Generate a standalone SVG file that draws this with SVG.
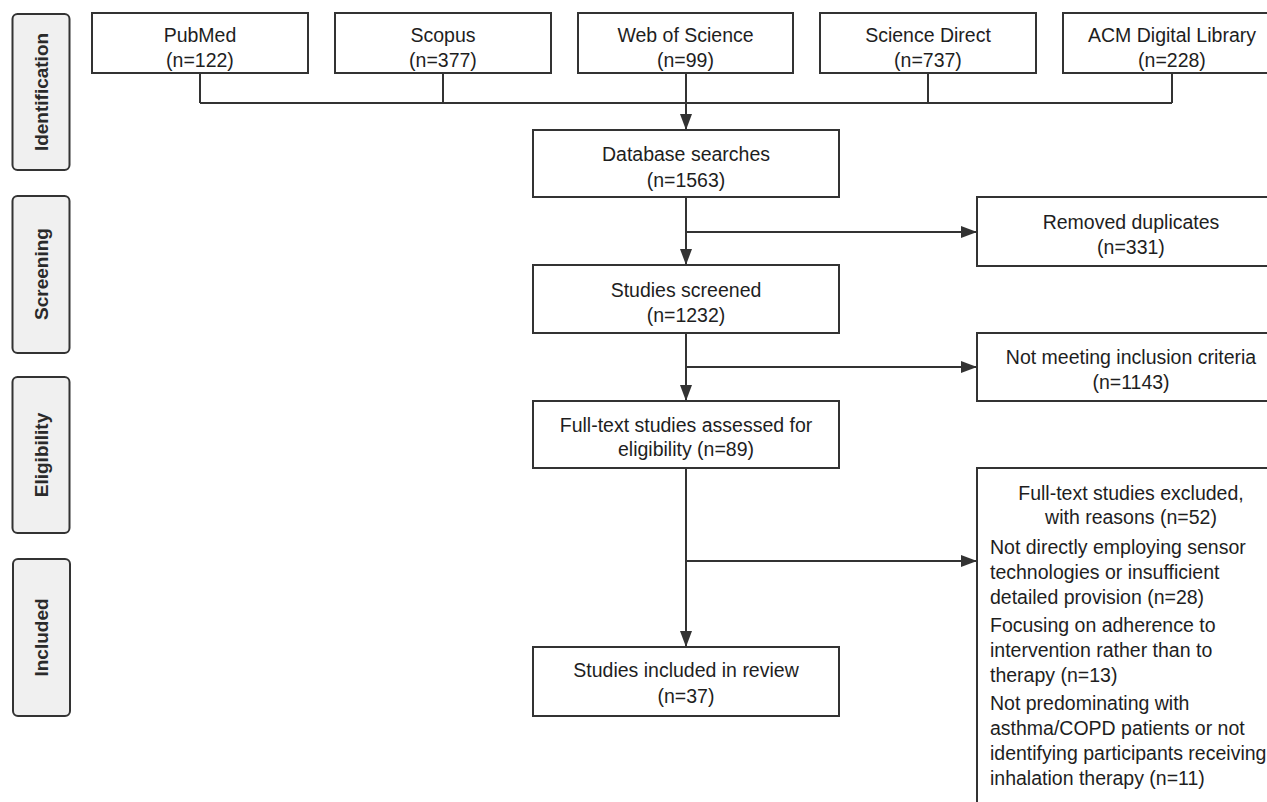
<svg xmlns="http://www.w3.org/2000/svg" width="1267" height="802" viewBox="0 0 1267 802">
<style>
.box{fill:#fff;stroke:#333;stroke-width:2}
.phase{fill:#f0f0f0;stroke:#333;stroke-width:2}
.t{font-family:"Liberation Sans",Arial,sans-serif;font-size:19.5px;fill:#1e1e1e}
.c{text-anchor:middle}
.ph{font-family:"Liberation Sans",Arial,sans-serif;font-size:19px;font-weight:bold;fill:#2a2a2a;text-anchor:middle}
.ln{fill:none;stroke:#333;stroke-width:2}
</style>
<defs>
<marker id="ah" markerWidth="16" markerHeight="12" refX="16" refY="6" orient="auto" markerUnits="userSpaceOnUse">
<path d="M0,0 L16,6 L0,12 Z" fill="#333"/>
</marker>
</defs>
<rect width="1267" height="802" fill="#fff"/>

<g id="phase-identification"><rect class="phase" x="12.5" y="14" width="57" height="156" rx="5"/><text class="ph" transform="translate(48,92) rotate(-90)">Identification</text></g>
<g id="phase-screening"><rect class="phase" x="12.5" y="196" width="57" height="157" rx="5"/><text class="ph" transform="translate(48,274) rotate(-90)">Screening</text></g>
<g id="phase-eligibility"><rect class="phase" x="12.5" y="377" width="57" height="156" rx="5"/><text class="ph" transform="translate(48,455) rotate(-90)">Eligibility</text></g>
<g id="phase-included"><rect class="phase" x="13" y="559" width="57" height="157" rx="5"/><text class="ph" transform="translate(48,637.5) rotate(-90)">Included</text></g>

<g id="connectors">
<path class="ln" d="M200,73 V103 M443,73 V103 M928,73 V103 M1172,73 V103 M200,103 H1172"/>
<path class="ln" d="M686,73 V130" marker-end="url(#ah)"/>
<path class="ln" d="M686,197 V265" marker-end="url(#ah)"/>
<path class="ln" d="M686,232 H977" marker-end="url(#ah)"/>
<path class="ln" d="M686,333 V401" marker-end="url(#ah)"/>
<path class="ln" d="M686,367 H977" marker-end="url(#ah)"/>
<path class="ln" d="M686,468 V647" marker-end="url(#ah)"/>
<path class="ln" d="M686,561 H977" marker-end="url(#ah)"/>
</g>

<g id="pubmed"><rect class="box" x="92" y="13" width="216" height="60"/><text class="t c" x="200" y="42">PubMed</text><text class="t c" x="200" y="67">(n=122)</text></g>
<g id="scopus"><rect class="box" x="335" y="13" width="216" height="60"/><text class="t c" x="443" y="42">Scopus</text><text class="t c" x="443" y="67">(n=377)</text></g>
<g id="wos"><rect class="box" x="578" y="13" width="215" height="60"/><text class="t c" x="685.5" y="42">Web of Science</text><text class="t c" x="685.5" y="67">(n=99)</text></g>
<g id="sciencedirect"><rect class="box" x="820" y="13" width="216" height="60"/><text class="t c" x="928" y="42">Science Direct</text><text class="t c" x="928" y="67">(n=737)</text></g>
<g id="acm"><rect class="box" x="1063" y="13" width="218" height="60"/><text class="t c" x="1172" y="42">ACM Digital Library</text><text class="t c" x="1172" y="67">(n=228)</text></g>

<g id="database"><rect class="box" x="533" y="130" width="306" height="67"/><text class="t c" x="686" y="161">Database searches</text><text class="t c" x="686" y="187">(n=1563)</text></g>
<g id="duplicates"><rect class="box" x="977" y="197" width="310" height="69"/><text class="t c" x="1131" y="229">Removed duplicates</text><text class="t c" x="1131" y="254">(n=331)</text></g>
<g id="screened"><rect class="box" x="533" y="265" width="306" height="68"/><text class="t c" x="686" y="297">Studies screened</text><text class="t c" x="686" y="322">(n=1232)</text></g>
<g id="notmeeting"><rect class="box" x="977" y="333" width="310" height="68"/><text class="t c" x="1131" y="364">Not meeting inclusion criteria</text><text class="t c" x="1131" y="389">(n=1143)</text></g>
<g id="fulltext"><rect class="box" x="533" y="401" width="306" height="67"/><text class="t c" x="686" y="432">Full-text studies assessed for</text><text class="t c" x="686" y="456">eligibility (n=89)</text></g>
<g id="included"><rect class="box" x="533" y="647" width="306" height="69"/><text class="t c" x="686" y="677">Studies included in review</text><text class="t c" x="686" y="703">(n=37)</text></g>

<g id="excluded"><rect class="box" x="977" y="468" width="310" height="360"/>
<text class="t c" x="1131" y="500">Full-text studies excluded,</text>
<text class="t c" x="1131" y="524">with reasons (n=52)</text>
<text class="t" x="990" y="554">Not directly employing sensor</text>
<text class="t" x="990" y="579">technologies or insufficient</text>
<text class="t" x="990" y="604">detailed provision (n=28)</text>
<text class="t" x="990" y="632">Focusing on adherence to</text>
<text class="t" x="990" y="657">intervention rather than to</text>
<text class="t" x="990" y="682">therapy (n=13)</text>
<text class="t" x="990" y="710">Not predominating with</text>
<text class="t" x="990" y="735">asthma/COPD patients or not</text>
<text class="t" x="990" y="760">identifying participants receiving</text>
<text class="t" x="990" y="785">inhalation therapy (n=11)</text>
</g>
</svg>
